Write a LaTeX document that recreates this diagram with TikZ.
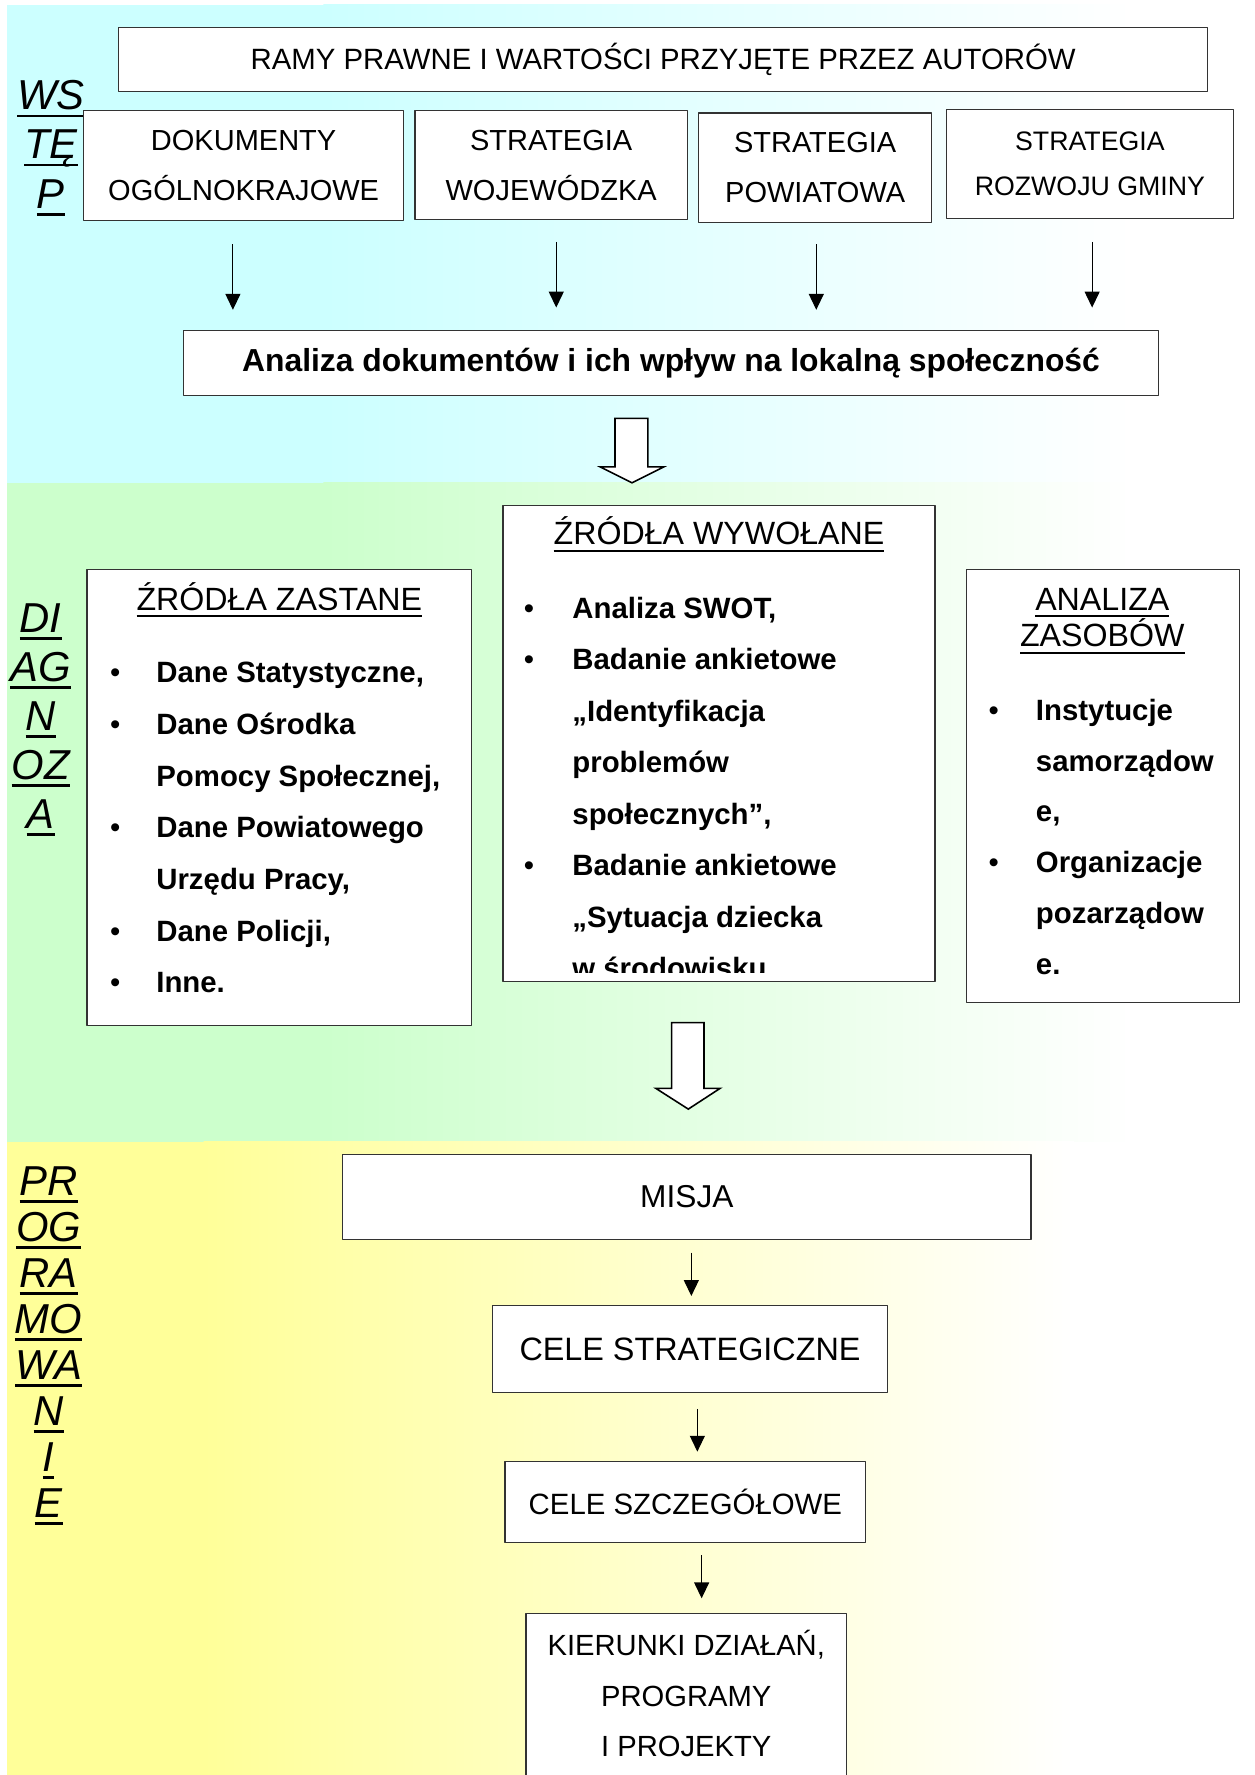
\documentclass[tikz,border=0pt]{standalone}
\usepackage{fontspec}
\setmainfont{Liberation Sans}
\usetikzlibrary{arrows.meta}
\definecolor{kolwstep}{RGB}{204,255,255}
\definecolor{koldiag}{RGB}{204,255,204}
\definecolor{kolprog}{RGB}{255,255,153}
\newcommand{\rozm}[2]{\fontsize{#1}{#2}\selectfont}
\newcommand{\podkr}[2][1.1pt]{\setbox0\hbox{#2}\rlap{\rule[\dimexpr-2.8pt-#1\relax]{\wd0}{#1}}\box0}
\begin{document}
\begin{tikzpicture}[x=0.0226cm, y=-0.0226cm, line join=round,
		ramka/.style={draw=black!80, line width=0.7pt, fill=white, inner sep=0pt, align=center},
		wym/.style 2 args={minimum width=#1*0.0226cm, minimum height=#2*0.0226cm},
		lista/.style={anchor=base west, inner sep=0pt, font=\bfseries\rozm{16.7}{20}},
		kropka/.style={anchor=base, inner sep=0pt, font=\rozm{16.7}{20}},
		tytul/.style={anchor=base, inner sep=0pt, font=\rozm{18.3}{20}},
		bok/.style={anchor=base, inner sep=0pt, font=\itshape\rozm{23.8}{24}},
		strz/.style={-{Triangle[length=9pt,width=8.5pt]}, line width=0.6pt},
		blok/.style={draw=black, line width=0.9pt, fill=white, line join=miter}]
				\useasboundingbox (0,0) rectangle (1110,1570);
				\clip (0,0) rectangle (1110,1570);
				% tla
				\fill[kolwstep] (6,4) rectangle (287,427);
				\shade[left color=kolwstep, right color=white] (286,4) rectangle (1002,427);
				\fill[koldiag] (6,427) rectangle (287,1010);
				\shade[left color=koldiag, right color=white] (286,427) rectangle (1002,1010);
				\fill[kolprog] (6,1010) rectangle (181,1570);
				\shade[left color=kolprog, right color=white] (180,1010) rectangle (950,1570);
				% napisy z boku
				\foreach \t [count=\i] in {WS,TĘ,P}{\pgfmathsetmacro\y{97+(\i-1)*43.5}
					\node[bok] (wstep\i) at (45,\y) {\podkr[1.5pt]{\t}};}
				\foreach \t [count=\i] in {DI,AG,N,OZ,A}{\pgfmathsetmacro\y{559.5+(\i-1)*43.25}
					\node[bok] (diag\i) at (36,\y) {\podkr[1.5pt]{\t}};}
				\foreach \t [count=\i] in {PR,OG,RA,MO,WA,N,I,E}{\pgfmathsetmacro\y{1057+(\i-1)*40.7}
					\node[bok] (prog\i) at (43,\y) {\podkr[1.5pt]{\t}};}
				% WSTEP
				\node[ramka, wym={963}{57}, font=\rozm{16.7}{20}] (ramy) at (586.5,52.5) {RAMY PRAWNE I WARTOŚCI PRZYJĘTE PRZEZ AUTORÓW};
				\node[ramka, wym={283}{97}, font=\rozm{16.5}{28.4}] (dok) at (215.5,146.5) {DOKUMENTY\\OGÓLNOKRAJOWE};
				\node[ramka, wym={241}{96}, font=\rozm{16.5}{28.4}] (woj) at (487.5,146) {STRATEGIA\\WOJEWÓDZKA};
				\node[ramka, wym={206}{97}, font=\rozm{16.5}{28.4}] (pow) at (721,148.5) {STRATEGIA\\POWIATOWA};
				\node[ramka, wym={254}{96}, font=\rozm{15.2}{25.7}] (gmi) at (964,145) {STRATEGIA\\ROZWOJU GMINY};
				\node[ramka, wym={863}{58}, font=\bfseries\rozm{18.1}{20}] (anal) at (593.5,321) {Analiza dokumentów i ich wpływ na lokalną społeczność};
				\foreach \x/\a/\b [count=\i] in {206/216/274, 492/214/272, 722/216/274, 966/214/272}{
					\coordinate (od\i) at (\x,\a); \coordinate (do\i) at (\x,\b);
					\draw[strz] (od\i) -- (do\i);}
				\draw[blok] (544,370)--(573,370)--(573,413)--(587,413)--(559,427)--(531,413)--(544,413)--cycle;
				% DIAGNOZA
				\node[ramka, wym={340}{403}] (zast) at (247,705.5) {};
				\node[ramka, wym={382}{421}] (wyw) at (636,657.5) {};
				\node[ramka, wym={241}{383}] (zas) at (975.5,695.5) {};
				\node[tytul] (tzast) at (247,540) {\podkr{ŹRÓDŁA ZASTANE}};
				\node[tytul] (twyw) at (636,482) {\podkr{ŹRÓDŁA WYWOŁANE}};
				\node[tytul] (tzas1) at (975,540) {\podkr{ANALIZA}};
				\node[tytul] (tzas2) at (975,572) {\podkr{ZASOBÓW}};
				\foreach \k/\t [count=\i] in {1/{Dane Statystyczne,}, 1/{Dane Ośrodka}, 0/{Pomocy Społecznej,}, 1/{Dane Powiatowego}, 0/{Urzędu Pracy,}, 1/{Dane Policji,}, 1/{Inne.}}{
					\pgfmathsetmacro\y{604+(\i-1)*45.7}
					\node[lista] (zast\i) at (138,\y) {\t};
					\ifnum\k=1 \node[kropka] (zastk\i) at (102,\y) {•};\fi}
				\begin{scope}
					\clip (445,447) rectangle (827,860);
					\foreach \k/\t [count=\i] in {1/{Analiza SWOT,}, 1/{Badanie ankietowe}, 0/{„Identyfikacja}, 0/{problemów}, 0/{społecznych”,}, 1/{Badanie ankietowe}, 0/{„Sytuacja dziecka}, 0/{w środowisku}}{
						\pgfmathsetmacro\y{547+(\i-1)*45.5}
						\node[lista] (wyw\i) at (506,\y) {\t};
						\ifnum\k=1 \node[kropka] (wywk\i) at (468,\y) {•};\fi}
				\end{scope}
				\foreach \k/\t [count=\i] in {1/{Instytucje}, 0/{samorządow}, 0/{e,}, 1/{Organizacje}, 0/{pozarządow}, 0/{e.}}{
					\pgfmathsetmacro\y{637+(\i-1)*45}
					\node[lista] (zas\i) at (916,\y) {\t};
					\ifnum\k=1 \node[kropka] (zask\i) at (879,\y) {•};\fi}
				\draw[blok] (594,904.5)--(622.7,904.5)--(622.7,962.6)--(637,962.6)--(608.8,981)--(580,962.6)--(594,962.6)--cycle;
				% PROGRAMOWANIE
				\node[ramka, wym={609}{75}, font=\rozm{18}{20}] (misja) at (607.5,1058.5) {MISJA};
				\node[ramka, wym={349}{77}, font=\rozm{18.4}{20}] (cstr) at (610.3,1193.4) {CELE STRATEGICZNE};
				\node[ramka, wym={319}{71.4}, font=\rozm{16.7}{20}] (cszcz) at (606.2,1328.5) {CELE SZCZEGÓŁOWE};
				\node[ramka, wym={283.7}{200}, anchor=north] (kier) at (607,1426.4) {};
				\node[font=\rozm{16.6}{28.6}, align=center, inner sep=0pt] (kiertekst) at (607,1498) {KIERUNKI DZIAŁAŃ,\\PROGRAMY\\I PROJEKTY};
				\foreach \x/\a/\b [count=\i] in {611.5/1108/1146.3, 616.8/1246.2/1284, 620.6/1375.4/1413.7}{
					\coordinate (zod\i) at (\x,\a); \coordinate (zdo\i) at (\x,\b);
					\draw[strz] (zod\i) -- (zdo\i);}
		\end{tikzpicture}
\end{document}
